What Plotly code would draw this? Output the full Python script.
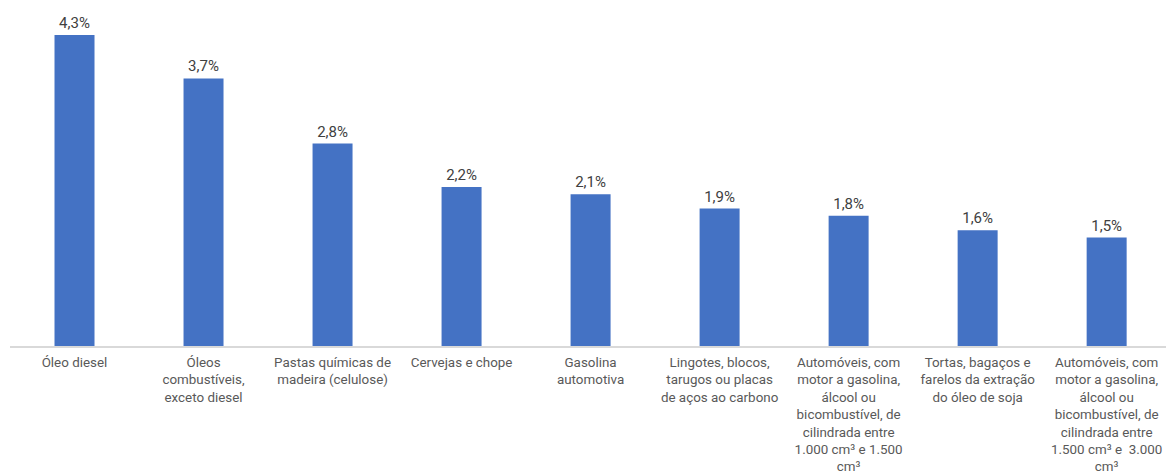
import plotly.graph_objects as go

# Product categories (x axis) and their share, in %
categories = [
    "Óleo diesel",
    "Óleos<br>combustíveis,<br>exceto diesel",
    "Pastas químicas de<br>madeira (celulose)",
    "Cervejas e chope",
    "Gasolina<br>automotiva",
    "Lingotes, blocos,<br>tarugos ou placas<br>de aços ao carbono",
    "Automóveis, com<br>motor a gasolina,<br>álcool ou<br>bicombustível, de<br>cilindrada entre<br>1.000 cm³ e 1.500<br>cm³",
    "Tortas, bagaços e<br>farelos da extração<br>do óleo de soja",
    "Automóveis, com<br>motor a gasolina,<br>álcool ou<br>bicombustível, de<br>cilindrada entre<br>1.500 cm³ e  3.000<br>cm³",
]
shares = [4.3, 3.7, 2.8, 2.2, 2.1, 1.9, 1.8, 1.6, 1.5]

fig = go.Figure(
    go.Bar(
        x=list(range(len(categories))),
        y=shares,
        marker=dict(color="#4472C4", line=dict(width=0)),
        width=0.31,
        texttemplate="%{y:.1f}%",
        textposition="outside",
        textfont=dict(family="Roboto, Arial, sans-serif", size=15, color="#404040"),
        cliponaxis=False,
        hoverinfo="skip",
    )
)

fig.update_layout(
    width=1166,
    height=472,
    margin=dict(l=10, r=0, t=0, b=126),
    paper_bgcolor="white",
    plot_bgcolor="white",
    separators=",.",
    showlegend=False,
    font=dict(family="Roboto, Arial, sans-serif", size=13.4, color="#595959"),
    xaxis=dict(
        tickmode="array",
        tickvals=list(range(len(categories))),
        ticktext=categories,
        range=[-0.5, len(categories) - 0.54],
        showline=True,
        linecolor="#D9D9D9",
        linewidth=1.5,
        showgrid=False,
        ticks="",
        tickangle=0,
        ticklabelstandoff=3,
        tickfont=dict(size=13.4, color="#595959"),
        automargin=False,
        fixedrange=True,
    ),
    yaxis=dict(
        range=[0, 4.785],
        visible=False,
        showgrid=False,
        zeroline=False,
        automargin=False,
        fixedrange=True,
    ),
)

fig.write_html("out.html")
